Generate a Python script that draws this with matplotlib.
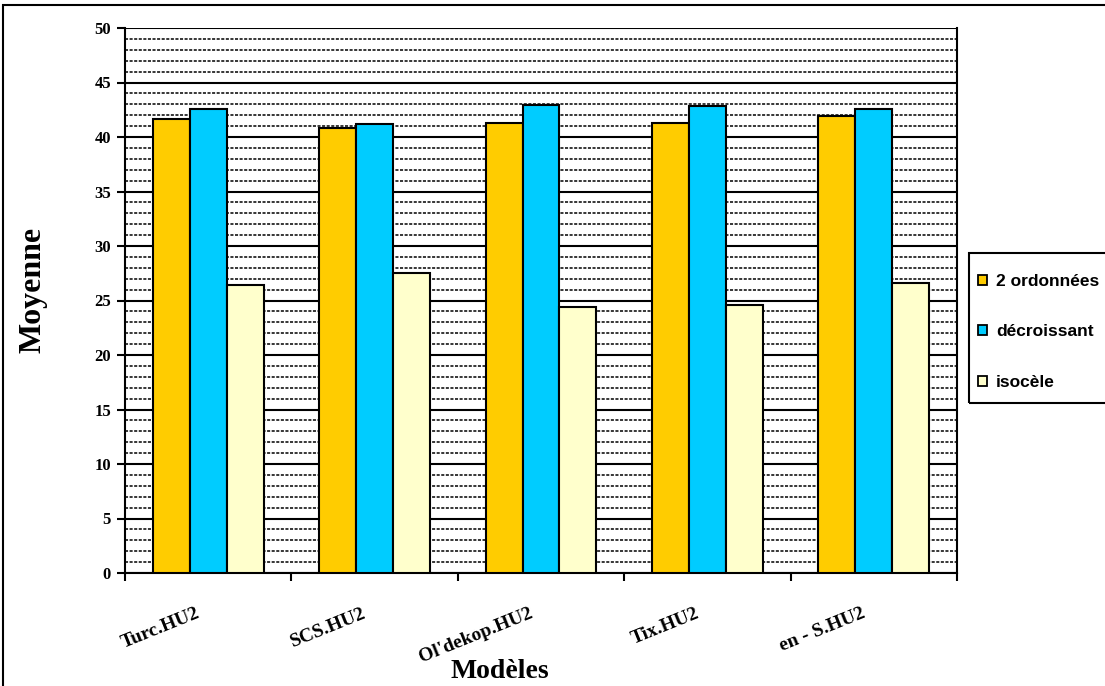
import numpy as np
import matplotlib.pyplot as plt
from matplotlib.patches import Rectangle, Patch

# data
models = ["Turc.HU2", "SCS.HU2", "Ol'dekop.HU2", "Tix.HU2", "en - S.HU2"]
ordonnees = [41.65, 40.8, 41.3, 41.3, 41.9]
decroissant = [42.6, 41.2, 42.9, 42.8, 42.6]
isocele = [26.4, 27.55, 24.4, 24.6, 26.6]

series_names = ["2 ordonnées", "décroissant", "isocèle"]
colors = ["#FFCC00", "#00CCFF", "#FFFFCC"]

fig = plt.figure(figsize=(11.05, 6.86), dpi=100)
ax = fig.add_axes([125 / 1105, 1 - 573 / 686, (957 - 125) / 1105, (573 - 28) / 686])

x = np.arange(len(models))
w = 0.222
for k, vals in enumerate([ordonnees, decroissant, isocele]):
    ax.bar(x + (k - 1) * w, vals, width=w, color=colors[k],
           edgecolor="black", linewidth=1.5, zorder=3)

ax.set_xlim(-0.5, len(models) - 0.5)
ax.set_ylim(0, 50)

# gridlines: solid every 5, dashed every 1
ax.set_yticks(np.arange(0, 51, 5))
ax.set_yticks(np.arange(0, 51, 1), minor=True)
ax.grid(axis="y", which="major", color="black", linewidth=1.5, linestyle="-", zorder=1)
ax.grid(axis="y", which="minor", color="black", linewidth=1.1, linestyle=(0, (2, 1)), zorder=1)
ax.set_axisbelow(True)
ax.tick_params(axis="y", which="minor", length=0)
ax.tick_params(axis="y", which="major", length=6, width=1.5, direction="out", pad=4)
for lab in ax.get_yticklabels():
    lab.set_fontfamily("Liberation Serif")
    lab.set_fontweight("bold")
    lab.set_fontsize(12)

# x ticks at group boundaries, labels as rotated text
ax.set_xticks(np.arange(-0.5, len(models), 1))
ax.set_xticklabels([])
ax.tick_params(axis="x", length=6, width=1.5, direction="out")
for i, name in enumerate(models):
    ax.annotate(name, xy=(i, 0), xycoords=("data", "axes fraction"),
                xytext=(-9, -23), textcoords="offset points",
                ha="right", va="top", rotation=22, rotation_mode="anchor",
                fontfamily="Liberation Serif", fontweight="bold", fontsize=14)

for side in ["left", "bottom", "right"]:
    ax.spines[side].set_linewidth(1.5)
ax.spines["top"].set_visible(False)

fig.text(33 / 1105, 1 - 290 / 686, "Moyenne", rotation=90, ha="center", va="center",
         fontfamily="Liberation Serif", fontweight="bold", fontsize=23)
fig.text(500 / 1105, 1 - 672 / 686, "Modèles", ha="center", va="center",
         fontfamily="Liberation Serif", fontweight="bold", fontsize=20)

# legend (box drawn separately, it runs off the right edge like the original)
handles = [Patch(facecolor=c, edgecolor="black", linewidth=1.3) for c in colors]
leg = fig.legend(handles, series_names, loc="center left",
                 bbox_to_anchor=(978 / 1105, 1 - 332 / 686),
                 prop={"family": "Liberation Sans", "weight": "bold", "size": 12.5},
                 frameon=False, handlelength=0.5, handleheight=0.5, handletextpad=0.55,
                 labelspacing=2.05, borderpad=0, borderaxespad=0)
fig.add_artist(Rectangle((969 / 1105, 1 - 403 / 686), 0.2, 150 / 686,
                         transform=fig.transFigure, fill=False,
                         edgecolor="black", linewidth=1.5))

# outer border of the chart area
fig.add_artist(Rectangle((3 / 1105, -0.05), 1.2, 1.05 - 5 / 686, transform=fig.transFigure,
                         fill=False, edgecolor="black", linewidth=1.5))

fig.savefig("out.png", dpi=100)
